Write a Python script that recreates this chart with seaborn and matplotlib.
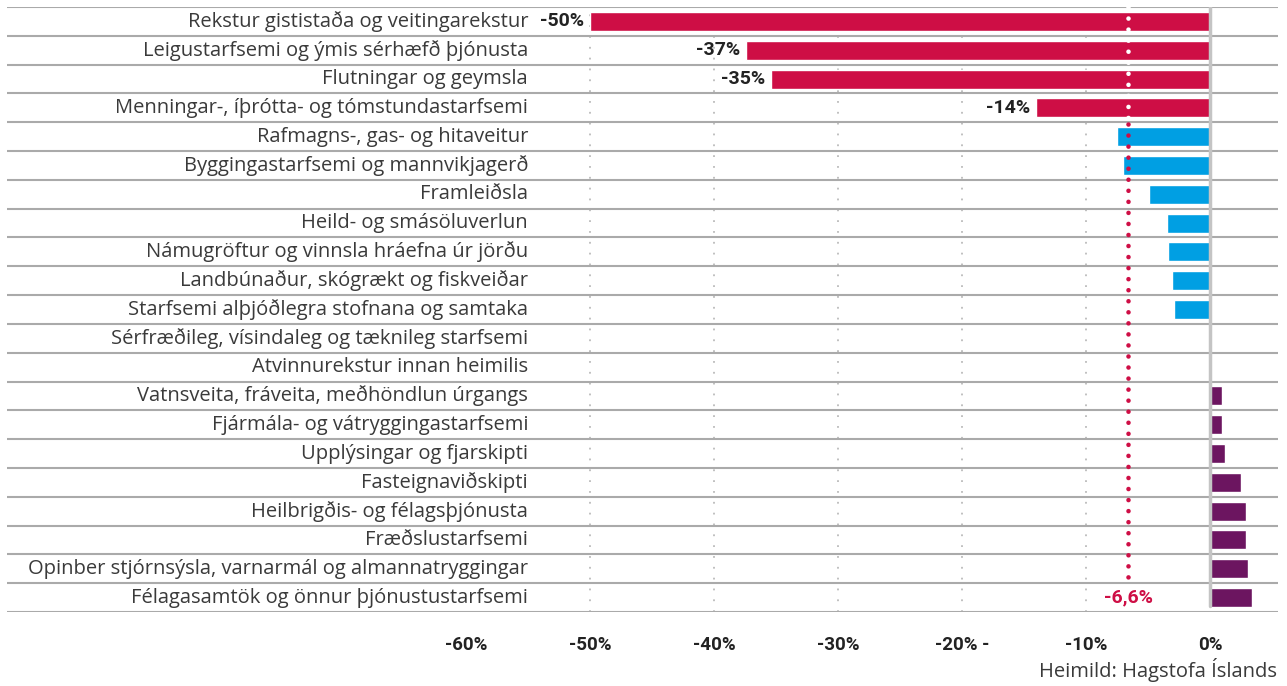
import matplotlib
matplotlib.use("Agg")
import matplotlib.pyplot as plt
import seaborn as sns
import pandas as pd

# -------------------------------
# Data
# -------------------------------
categories = [
    "Rekstur gististaða og veitingarekstur",
    "Leigustarfsemi og ýmis sérhæfð þjónusta",
    "Flutningar og geymsla",
    "Menningar-, íþrótta- og tómstundastarfsemi",
    "Rafmagns-, gas- og hitaveitur",
    "Byggingastarfsemi og mannvikjagerð",
    "Framleiðsla",
    "Heild- og smásöluverlun",
    "Námugröftur og vinnsla hráefna úr jörðu",
    "Landbúnaður, skógrækt og fiskveiðar",
    "Starfsemi alþjóðlegra stofnana og samtaka",
    "Sérfræðileg, vísindaleg og tæknileg starfsemi",
    "Atvinnurekstur innan heimilis",
    "Vatnsveita, fráveita, meðhöndlun úrgangs",
    "Fjármála- og vátryggingastarfsemi",
    "Upplýsingar og fjarskipti",
    "Fasteignaviðskipti",
    "Heilbrigðis- og félagsþjónusta",
    "Fræðslustarfsemi",
    "Opinber stjórnsýsla, varnarmál og almannatryggingar",
    "Félagasamtök og önnur þjónustustarfsemi",
]
values = [-50.0, -37.4, -35.4, -14.0, -7.5, -7.0, -4.9, -3.5, -3.4, -3.1, -2.9,
          0.0, 0.0, 1.0, 1.0, 1.2, 2.5, 2.9, 2.9, 3.1, 3.4]
labelled = ["-50%", "-37%", "-35%", "-14%"]
mean_value = -6.6
mean_label = "-6,6%"
xticks = [-60, -50, -40, -30, -20, -10, 0]
xtick_labels = ["-60%", "-50%", "-40%", "-30%", "-20% -", "-10%", "0%"]
source = "Heimild: Hagstofa Íslands"

RED = "#CE0E45"
BLUE = "#009FE3"
PURPLE = "#6C1560"
DARK = "#222222"
TEXT = "#3A3A3A"

df = pd.DataFrame({"cat": categories, "val": values})
colors = [RED if v <= -10 else (BLUE if v < 0 else PURPLE) for v in values]

sns.set_theme(style="white")
plt.rcParams["font.family"] = ["Roboto", "DejaVu Sans"]
LABEL_FONT = ["Open Sans", "DejaVu Sans"]

fig = plt.figure(figsize=(12.87, 6.86), dpi=100)
W, H = 1287, 686
ax = fig.add_axes([7 / W, (H - 612) / H, (1278 - 7) / W, (612 - 7) / H])

sns.barplot(data=df, x="val", y="cat", hue="cat", palette=colors,
            legend=False, width=0.66, orient="h", ax=ax, zorder=2,
            saturation=1)

# pixel scale: 0% at 1210 px, -50% at 590 px
px_per = 12.4
ax.set_xlim((7 - 1210) / px_per, (1278 - 1210) / px_per)
ax.set_ylim(len(categories) - 0.5, -0.5)

for s in ax.spines.values():
    s.set_visible(False)
ax.set_xlabel("")
ax.set_ylabel("")
ax.set_yticks([])

ax.set_xticks(xticks)
ax.set_xticklabels(xtick_labels, fontsize=13.5, fontweight="bold", color=DARK)
ax.tick_params(axis="x", length=0, pad=17)

# row separators
for i in range(len(categories) + 1):
    ax.axhline(i - 0.5, color="#AAAAAA", lw=1.5, zorder=1)

# vertical dotted gridlines
for t in xticks[1:-1]:
    ax.axvline(t, color="#BBBBBB", lw=1.3, ls=(0, (1, 5)), zorder=0.5)

# zero line
ax.axvline(0, color="#C4C4C4", lw=2.5, zorder=3, ymin=0.01)

# category labels
label_x = (528 - 1210) / px_per
for i, c in enumerate(categories):
    ax.text(label_x, i, c, ha="right", va="center", fontsize=14.5,
            family=LABEL_FONT, color=TEXT)

# value labels on the big bars
for i, lab in enumerate(labelled):
    ax.text(values[i] - 0.5, i, lab, ha="right", va="center", fontsize=14,
            fontweight="bold", color=DARK)

# mean line: white over red bars, crimson below
ax.plot([mean_value, mean_value], [-0.5, 3.45], color="white", lw=3.3,
        ls=(0, (0.01, 2.4)), dash_capstyle="round", zorder=4)
ax.plot([mean_value, mean_value], [3.55, 19.5], color=RED, lw=3.3,
        ls=(0, (0.01, 2.4)), dash_capstyle="round", zorder=4)
ax.text(mean_value, 20, mean_label, ha="center", va="center", fontsize=14,
        fontweight="bold", color=RED)

fig.text(1277 / W, 1 - 670 / H, source, ha="right", va="center",
         fontsize=14.5, family=LABEL_FONT, color=TEXT)

fig.savefig("out.png", dpi=100)
plt.close(fig)
